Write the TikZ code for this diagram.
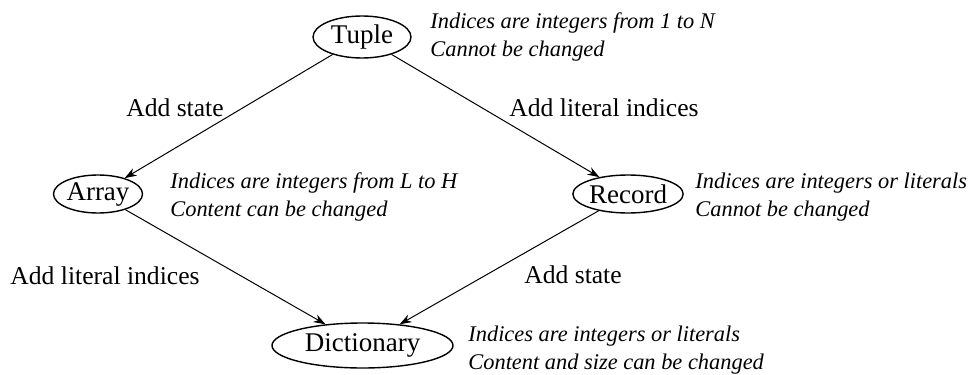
\documentclass[tikz,border=0pt]{standalone}
\usepackage{fontspec}
\setmainfont{Liberation Serif}
\usetikzlibrary{shapes.geometric,arrows.meta}
\begin{document}
\begin{tikzpicture}[x=0.5pt, y=-0.5pt,
  kind/.style={draw, ellipse, line width=0.7pt, inner sep=0pt, font=\fontsize{13.5}{16}\selectfont},
  note/.style={anchor=west, align=left, inner sep=0pt, font=\fontsize{11.2}{14}\selectfont\itshape},
  edgetext/.style={inner sep=0pt, font=\fontsize{12.8}{15}\selectfont},
  link/.style={-{Stealth[length=6pt,width=4.2pt]}, line width=0.5pt}]
\useasboundingbox (0,0) rectangle (972,374);
\node[kind, minimum width=49pt, minimum height=21pt] (tuple) at (362,37) {Tuple};
\node[kind, minimum width=43pt, minimum height=19pt] (array) at (98,194) {Array};
\node[kind, minimum width=55pt, minimum height=19pt] (record) at (628,194) {Record};
\node[kind, minimum width=90.5pt, minimum height=22.5pt] (dict) at (362.5,345.5) {Dictionary};
\node[note] (tuplenote) at (430,37) {Indices are integers from 1 to N\\Cannot be changed};
\node[note] (arraynote) at (170,197) {Indices are integers from L to H\\Content can be changed};
\node[note] (recordnote) at (695,197) {Indices are integers or literals\\Cannot be changed};
\node[note] (dictnote) at (468,350) {Indices are integers or literals\\Content and size can be changed};
\draw[link] (tuple) -- (array); \draw[link] (tuple) -- (record); \draw[link] (array) -- (dict); \draw[link] (record) -- (dict);
\node[edgetext] (statea) at (175,108) {Add state}; \node[edgetext] (literala) at (604,108) {Add literal indices};
\node[edgetext] (literalb) at (105,276) {Add literal indices}; \node[edgetext] (stateb) at (573,275) {Add state};
\end{tikzpicture}
\end{document}
